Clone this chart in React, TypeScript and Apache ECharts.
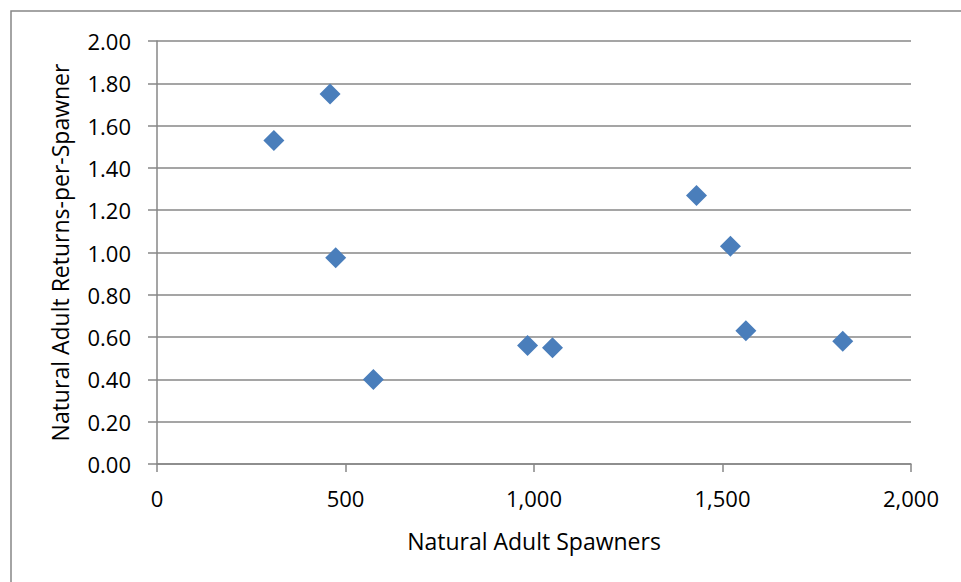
import React, { useEffect, useRef } from "react";
import * as echarts from "echarts";

const spawners = [310, 459, 474, 574, 983, 1049, 1431, 1521, 1562, 1819];
const returnsPerSpawner = [1.53, 1.75, 0.975, 0.40, 0.56, 0.55, 1.27, 1.03, 0.63, 0.58];
const xAxisTitle = "Natural Adult Spawners";
const yAxisTitle = "Natural Adult Returns-per-Spawner";

export default function App() {
  const ref = useRef<HTMLDivElement>(null);
  useEffect(() => {
    if (!ref.current) return;
    const chart = echarts.init(ref.current, null, { renderer: "svg" });
    const font = "'Open Sans', 'Noto Sans', sans-serif";
    chart.setOption({
      animation: false,
      backgroundColor: "#ffffff",
      textStyle: { fontFamily: font },
      graphic: [
        {
          type: "rect",
          shape: { x: 11, y: 11, width: 1200, height: 1200 },
          style: { fill: "none", stroke: "#878787", lineWidth: 1.5 },
          silent: true,
        },
      ],
      grid: { left: 157, right: 50, top: 41, bottom: 118, containLabel: false },
      xAxis: {
        type: "value",
        min: 0,
        max: 2000,
        interval: 500,
        name: xAxisTitle,
        nameLocation: "middle",
        nameGap: 65,
        nameTextStyle: { fontSize: 23, color: "#000", fontFamily: font },
        axisLine: { show: true, onZero: false, lineStyle: { color: "#878787", width: 1.5 } },
        axisTick: { show: true, length: 8, lineStyle: { color: "#878787", width: 1.5 } },
        axisLabel: {
          fontSize: 22,
          color: "#000",
          margin: 23,
          fontFamily: font,
          formatter: (v: number) => v.toLocaleString("en-US"),
        },
        splitLine: { show: false },
      },
      yAxis: {
        type: "value",
        min: 0,
        max: 2,
        interval: 0.2,
        name: yAxisTitle,
        nameLocation: "middle",
        nameGap: 86,
        nameTextStyle: { fontSize: 23, color: "#000", fontFamily: font },
        axisLine: { show: true, lineStyle: { color: "#878787", width: 1.5 } },
        axisTick: { show: true, length: 9, lineStyle: { color: "#878787", width: 1.5 } },
        axisLabel: {
          fontSize: 22,
          color: "#000",
          margin: 26,
          fontFamily: font,
          formatter: (v: number) => v.toFixed(2),
        },
        splitLine: { show: true, lineStyle: { color: "#878787", width: 1.5 } },
      },
      series: [
        {
          type: "scatter",
          data: spawners.map((x, i) => [x, returnsPerSpawner[i]]),
          symbol: "diamond",
          symbolSize: [21, 21],
          itemStyle: { color: "#4a7ebb", opacity: 1 },
        },
      ],
    });
    return () => chart.dispose();
  }, []);
  return (
    <div
      ref={ref}
      style={{ position: "fixed", left: 0, top: 0, width: 961, height: 582, background: "#fff" }}
    />
  );
}
